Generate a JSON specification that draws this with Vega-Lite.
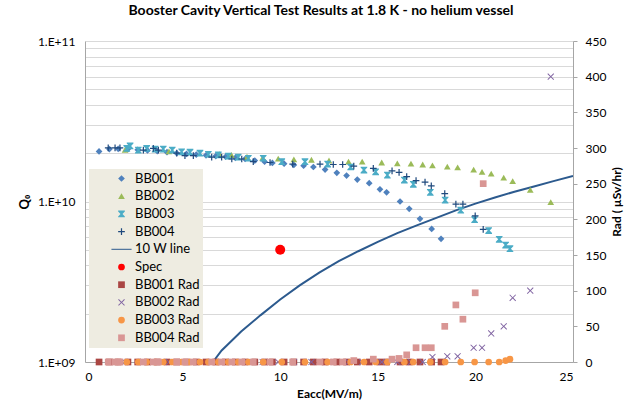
{
  "$schema": "https://vega.github.io/schema/vega-lite/v6.json",
  "width": 488,
  "height": 321,
  "autosize": {"type": "none"},
  "padding": {"left": 85, "top": 41, "right": 65, "bottom": 45},
  "background": "white",
  "config": {
    "font": "Lato",
    "view": {"stroke": null},
    "axis": {"labelFont": "Lato", "labelFontSize": 12, "labelColor": "#000000", "titleFont": "Lato", "titleFontSize": 12, "titleFontWeight": "bold", "titleColor": "#000000", "domainColor": "#A6A6A6", "tickColor": "#A6A6A6", "gridColor": "#D9D9D9", "gridWidth": 1}
  },
  "title": {"text": "Booster Cavity Vertical Test Results at 1.8 K - no helium vessel", "font": "Lato", "fontSize": 14, "fontWeight": "bold", "color": "#000000", "anchor": "middle", "offset": 17, "dx": -8},
  "datasets": {
    "q": [
      {"s": "BB001", "e": 0.72, "q": 2.05e10}, {"s": "BB001", "e": 1.25, "q": 2.12e10}, {"s": "BB001", "e": 1.7, "q": 2.13e10}, {"s": "BB001", "e": 2.2, "q": 2.12e10}, {"s": "BB001", "e": 2.7, "q": 2.1e10}, {"s": "BB001", "e": 3.2, "q": 2.08e10}, {"s": "BB001", "e": 3.7, "q": 2.06e10}, {"s": "BB001", "e": 4.2, "q": 2.03e10}, {"s": "BB001", "e": 4.7, "q": 2.0e10}, {"s": "BB001", "e": 5.2, "q": 1.98e10}, {"s": "BB001", "e": 5.7, "q": 1.96e10}, {"s": "BB001", "e": 6.2, "q": 1.94e10}, {"s": "BB001", "e": 6.7, "q": 1.92e10}, {"s": "BB001", "e": 7.2, "q": 1.9e10}, {"s": "BB001", "e": 7.7, "q": 1.87e10}, {"s": "BB001", "e": 8.2, "q": 1.84e10}, {"s": "BB001", "e": 8.7, "q": 1.8e10}, {"s": "BB001", "e": 9.2, "q": 1.77e10}, {"s": "BB001", "e": 9.6, "q": 1.74e10}, {"s": "BB001", "e": 10.2, "q": 1.72e10}, {"s": "BB001", "e": 10.7, "q": 1.69e10}, {"s": "BB001", "e": 11.2, "q": 1.67e10}, {"s": "BB001", "e": 11.7, "q": 1.64e10}, {"s": "BB001", "e": 12.3, "q": 1.58e10}, {"s": "BB001", "e": 12.9, "q": 1.51e10}, {"s": "BB001", "e": 13.4, "q": 1.45e10}, {"s": "BB001", "e": 13.95, "q": 1.37e10}, {"s": "BB001", "e": 14.56, "q": 1.3e10}, {"s": "BB001", "e": 15.11, "q": 1.19e10}, {"s": "BB001", "e": 15.45, "q": 1.14e10}, {"s": "BB001", "e": 16.14, "q": 1.0e10}, {"s": "BB001", "e": 16.61, "q": 9.0e9}, {"s": "BB001", "e": 17.16, "q": 7.8e9}, {"s": "BB001", "e": 17.76, "q": 6.75e9}, {"s": "BB001", "e": 18.24, "q": 5.85e9},
      {"s": "BB002", "e": 2.05, "q": 2.1e10}, {"s": "BB002", "e": 4.3, "q": 2.05e10}, {"s": "BB002", "e": 6.9, "q": 1.97e10}, {"s": "BB002", "e": 7.5, "q": 1.95e10}, {"s": "BB002", "e": 8.3, "q": 1.9e10}, {"s": "BB002", "e": 9.1, "q": 1.87e10}, {"s": "BB002", "e": 9.9, "q": 1.85e10}, {"s": "BB002", "e": 10.7, "q": 1.83e10}, {"s": "BB002", "e": 11.6, "q": 1.82e10}, {"s": "BB002", "e": 12.5, "q": 1.8e10}, {"s": "BB002", "e": 13.5, "q": 1.77e10}, {"s": "BB002", "e": 14.2, "q": 1.77e10}, {"s": "BB002", "e": 15.2, "q": 1.75e10}, {"s": "BB002", "e": 16.0, "q": 1.73e10}, {"s": "BB002", "e": 16.7, "q": 1.72e10}, {"s": "BB002", "e": 17.3, "q": 1.7e10}, {"s": "BB002", "e": 17.8, "q": 1.68e10}, {"s": "BB002", "e": 18.56, "q": 1.65e10}, {"s": "BB002", "e": 19.09, "q": 1.63e10}, {"s": "BB002", "e": 19.91, "q": 1.58e10}, {"s": "BB002", "e": 20.34, "q": 1.53e10}, {"s": "BB002", "e": 20.81, "q": 1.49e10}, {"s": "BB002", "e": 21.45, "q": 1.41e10}, {"s": "BB002", "e": 21.91, "q": 1.34e10}, {"s": "BB002", "e": 22.81, "q": 1.18e10}, {"s": "BB002", "e": 23.86, "q": 9.9e9},
      {"s": "BB003", "e": 2.14, "q": 2.14e10}, {"s": "BB003", "e": 2.31, "q": 2.22e10}, {"s": "BB003", "e": 2.73, "q": 2.09e10}, {"s": "BB003", "e": 3.16, "q": 2.14e10}, {"s": "BB003", "e": 3.59, "q": 2.12e10}, {"s": "BB003", "e": 4.01, "q": 2.12e10}, {"s": "BB003", "e": 4.47, "q": 2.09e10}, {"s": "BB003", "e": 4.95, "q": 2.04e10}, {"s": "BB003", "e": 5.38, "q": 2.03e10}, {"s": "BB003", "e": 5.89, "q": 2.0e10}, {"s": "BB003", "e": 6.32, "q": 1.97e10}, {"s": "BB003", "e": 6.83, "q": 1.95e10}, {"s": "BB003", "e": 7.34, "q": 1.92e10}, {"s": "BB003", "e": 7.85, "q": 1.89e10}, {"s": "BB003", "e": 8.37, "q": 1.86e10}, {"s": "BB003", "e": 9.13, "q": 1.86e10}, {"s": "BB003", "e": 10.08, "q": 1.77e10}, {"s": "BB003", "e": 11.27, "q": 1.77e10}, {"s": "BB003", "e": 12.43, "q": 1.71e10}, {"s": "BB003", "e": 13.61, "q": 1.64e10}, {"s": "BB003", "e": 14.29, "q": 1.57e10}, {"s": "BB003", "e": 14.89, "q": 1.53e10}, {"s": "BB003", "e": 15.49, "q": 1.46e10}, {"s": "BB003", "e": 16.36, "q": 1.36e10}, {"s": "BB003", "e": 16.82, "q": 1.28e10}, {"s": "BB003", "e": 17.69, "q": 1.14e10}, {"s": "BB003", "e": 18.45, "q": 1.02e10}, {"s": "BB003", "e": 19.25, "q": 8.83e9}, {"s": "BB003", "e": 19.96, "q": 7.71e9}, {"s": "BB003", "e": 20.68, "q": 6.59e9}, {"s": "BB003", "e": 21.22, "q": 5.81e9}, {"s": "BB003", "e": 21.55, "q": 5.35e9}, {"s": "BB003", "e": 21.77, "q": 5.08e9},
      {"s": "BB004", "e": 1.19, "q": 2.16e10}, {"s": "BB004", "e": 1.54, "q": 2.16e10}, {"s": "BB004", "e": 1.79, "q": 2.16e10}, {"s": "BB004", "e": 2.99, "q": 2.09e10}, {"s": "BB004", "e": 3.5, "q": 2.14e10}, {"s": "BB004", "e": 3.76, "q": 2.09e10}, {"s": "BB004", "e": 4.7, "q": 2.0e10}, {"s": "BB004", "e": 5.12, "q": 1.93e10}, {"s": "BB004", "e": 5.55, "q": 1.93e10}, {"s": "BB004", "e": 6.49, "q": 1.89e10}, {"s": "BB004", "e": 7.0, "q": 1.89e10}, {"s": "BB004", "e": 7.52, "q": 1.84e10}, {"s": "BB004", "e": 8.03, "q": 1.84e10}, {"s": "BB004", "e": 8.62, "q": 1.77e10}, {"s": "BB004", "e": 9.48, "q": 1.75e10}, {"s": "BB004", "e": 10.64, "q": 1.71e10}, {"s": "BB004", "e": 12.04, "q": 1.71e10}, {"s": "BB004", "e": 12.72, "q": 1.7e10}, {"s": "BB004", "e": 13.2, "q": 1.7e10}, {"s": "BB004", "e": 13.77, "q": 1.66e10}, {"s": "BB004", "e": 14.77, "q": 1.61e10}, {"s": "BB004", "e": 15.73, "q": 1.55e10}, {"s": "BB004", "e": 16.09, "q": 1.52e10}, {"s": "BB004", "e": 16.48, "q": 1.43e10}, {"s": "BB004", "e": 16.96, "q": 1.35e10}, {"s": "BB004", "e": 17.42, "q": 1.32e10}, {"s": "BB004", "e": 17.74, "q": 1.25e10}, {"s": "BB004", "e": 18.43, "q": 1.12e10}, {"s": "BB004", "e": 19.0, "q": 9.64e9}, {"s": "BB004", "e": 19.36, "q": 9.64e9}, {"s": "BB004", "e": 19.99, "q": 8.13e9}, {"s": "BB004", "e": 20.4, "q": 6.71e9}
    ],
    "w10": [
      {"e": 6.55, "q": 1.0e9}, {"e": 7, "q": 1.18e9}, {"e": 8, "q": 1.55e9}, {"e": 9, "q": 1.96e9}, {"e": 10, "q": 2.45e9}, {"e": 11, "q": 3.0e9}, {"e": 12, "q": 3.6e9}, {"e": 13, "q": 4.25e9}, {"e": 14, "q": 4.9e9}, {"e": 15, "q": 5.6e9}, {"e": 16, "q": 6.35e9}, {"e": 17, "q": 7.1e9}, {"e": 18, "q": 7.9e9}, {"e": 19, "q": 8.8e9}, {"e": 20, "q": 9.7e9}, {"e": 21, "q": 1.06e10}, {"e": 22, "q": 1.15e10}, {"e": 23, "q": 1.24e10}, {"e": 24, "q": 1.34e10}, {"e": 25, "q": 1.44e10}
    ],
    "spec": [{"s": "Spec", "e": 10, "q": 5.0e9}],
    "rad": [
      {"s": "BB001 Rad", "e": 0.72, "r": 0}, {"s": "BB001 Rad", "e": 1.25, "r": 0}, {"s": "BB001 Rad", "e": 1.7, "r": 0}, {"s": "BB001 Rad", "e": 2.2, "r": 0}, {"s": "BB001 Rad", "e": 2.7, "r": 0}, {"s": "BB001 Rad", "e": 3.2, "r": 0}, {"s": "BB001 Rad", "e": 3.7, "r": 0}, {"s": "BB001 Rad", "e": 4.2, "r": 0}, {"s": "BB001 Rad", "e": 4.7, "r": 0}, {"s": "BB001 Rad", "e": 5.2, "r": 0}, {"s": "BB001 Rad", "e": 5.7, "r": 0}, {"s": "BB001 Rad", "e": 6.2, "r": 0}, {"s": "BB001 Rad", "e": 6.7, "r": 0}, {"s": "BB001 Rad", "e": 7.2, "r": 0}, {"s": "BB001 Rad", "e": 7.7, "r": 0}, {"s": "BB001 Rad", "e": 8.2, "r": 0}, {"s": "BB001 Rad", "e": 8.7, "r": 0}, {"s": "BB001 Rad", "e": 9.2, "r": 0}, {"s": "BB001 Rad", "e": 9.6, "r": 0}, {"s": "BB001 Rad", "e": 10.2, "r": 0}, {"s": "BB001 Rad", "e": 10.7, "r": 0}, {"s": "BB001 Rad", "e": 11.2, "r": 0}, {"s": "BB001 Rad", "e": 11.7, "r": 0}, {"s": "BB001 Rad", "e": 12.3, "r": 0}, {"s": "BB001 Rad", "e": 12.9, "r": 0}, {"s": "BB001 Rad", "e": 13.4, "r": 0}, {"s": "BB001 Rad", "e": 13.95, "r": 0}, {"s": "BB001 Rad", "e": 14.56, "r": 0}, {"s": "BB001 Rad", "e": 15.11, "r": 0}, {"s": "BB001 Rad", "e": 15.45, "r": 0}, {"s": "BB001 Rad", "e": 16.14, "r": 0}, {"s": "BB001 Rad", "e": 16.61, "r": 0}, {"s": "BB001 Rad", "e": 17.16, "r": 0}, {"s": "BB001 Rad", "e": 17.76, "r": 0}, {"s": "BB001 Rad", "e": 18.24, "r": 0},
      {"s": "BB002 Rad", "e": 2.05, "r": 0}, {"s": "BB002 Rad", "e": 4.3, "r": 0}, {"s": "BB002 Rad", "e": 6.9, "r": 0}, {"s": "BB002 Rad", "e": 7.5, "r": 0}, {"s": "BB002 Rad", "e": 8.3, "r": 0}, {"s": "BB002 Rad", "e": 9.1, "r": 0}, {"s": "BB002 Rad", "e": 9.9, "r": 0}, {"s": "BB002 Rad", "e": 10.7, "r": 0}, {"s": "BB002 Rad", "e": 11.6, "r": 0}, {"s": "BB002 Rad", "e": 12.5, "r": 0}, {"s": "BB002 Rad", "e": 13.5, "r": 0}, {"s": "BB002 Rad", "e": 14.2, "r": 0}, {"s": "BB002 Rad", "e": 15.2, "r": 0}, {"s": "BB002 Rad", "e": 16.0, "r": 0}, {"s": "BB002 Rad", "e": 16.7, "r": 0}, {"s": "BB002 Rad", "e": 17.3, "r": 0}, {"s": "BB002 Rad", "e": 17.8, "r": 7}, {"s": "BB002 Rad", "e": 18.56, "r": 8}, {"s": "BB002 Rad", "e": 19.09, "r": 8}, {"s": "BB002 Rad", "e": 19.91, "r": 20}, {"s": "BB002 Rad", "e": 20.34, "r": 20}, {"s": "BB002 Rad", "e": 20.81, "r": 40}, {"s": "BB002 Rad", "e": 21.45, "r": 50}, {"s": "BB002 Rad", "e": 21.91, "r": 90}, {"s": "BB002 Rad", "e": 22.81, "r": 100}, {"s": "BB002 Rad", "e": 23.86, "r": 400},
      {"s": "BB003 Rad", "e": 2.14, "r": 0}, {"s": "BB003 Rad", "e": 2.73, "r": 0}, {"s": "BB003 Rad", "e": 3.16, "r": 0}, {"s": "BB003 Rad", "e": 3.59, "r": 0}, {"s": "BB003 Rad", "e": 4.01, "r": 0}, {"s": "BB003 Rad", "e": 4.47, "r": 0}, {"s": "BB003 Rad", "e": 4.95, "r": 0}, {"s": "BB003 Rad", "e": 5.38, "r": 0}, {"s": "BB003 Rad", "e": 5.89, "r": 0}, {"s": "BB003 Rad", "e": 6.32, "r": 0}, {"s": "BB003 Rad", "e": 6.83, "r": 0}, {"s": "BB003 Rad", "e": 7.34, "r": 0}, {"s": "BB003 Rad", "e": 7.85, "r": 0}, {"s": "BB003 Rad", "e": 8.37, "r": 0}, {"s": "BB003 Rad", "e": 9.13, "r": 0}, {"s": "BB003 Rad", "e": 10.08, "r": 0}, {"s": "BB003 Rad", "e": 11.27, "r": 0}, {"s": "BB003 Rad", "e": 12.43, "r": 0}, {"s": "BB003 Rad", "e": 13.61, "r": 0}, {"s": "BB003 Rad", "e": 14.29, "r": 0}, {"s": "BB003 Rad", "e": 14.89, "r": 0}, {"s": "BB003 Rad", "e": 15.49, "r": 0}, {"s": "BB003 Rad", "e": 16.36, "r": 0}, {"s": "BB003 Rad", "e": 16.82, "r": 0}, {"s": "BB003 Rad", "e": 17.69, "r": 0}, {"s": "BB003 Rad", "e": 18.45, "r": 0}, {"s": "BB003 Rad", "e": 19.25, "r": 0}, {"s": "BB003 Rad", "e": 19.96, "r": 0}, {"s": "BB003 Rad", "e": 20.68, "r": 0}, {"s": "BB003 Rad", "e": 21.22, "r": 0}, {"s": "BB003 Rad", "e": 21.55, "r": 2}, {"s": "BB003 Rad", "e": 21.77, "r": 4},
      {"s": "BB004 Rad", "e": 1.19, "r": 0}, {"s": "BB004 Rad", "e": 1.54, "r": 0}, {"s": "BB004 Rad", "e": 1.79, "r": 0}, {"s": "BB004 Rad", "e": 2.99, "r": 0}, {"s": "BB004 Rad", "e": 3.5, "r": 0}, {"s": "BB004 Rad", "e": 3.76, "r": 0}, {"s": "BB004 Rad", "e": 4.7, "r": 0}, {"s": "BB004 Rad", "e": 5.12, "r": 0}, {"s": "BB004 Rad", "e": 5.55, "r": 0}, {"s": "BB004 Rad", "e": 6.49, "r": 0}, {"s": "BB004 Rad", "e": 7.0, "r": 0}, {"s": "BB004 Rad", "e": 7.52, "r": 0}, {"s": "BB004 Rad", "e": 8.03, "r": 0}, {"s": "BB004 Rad", "e": 8.62, "r": 0}, {"s": "BB004 Rad", "e": 9.48, "r": 0}, {"s": "BB004 Rad", "e": 10.64, "r": 0}, {"s": "BB004 Rad", "e": 12.04, "r": 0}, {"s": "BB004 Rad", "e": 12.72, "r": 0}, {"s": "BB004 Rad", "e": 13.2, "r": 0}, {"s": "BB004 Rad", "e": 13.77, "r": 2}, {"s": "BB004 Rad", "e": 14.77, "r": 4}, {"s": "BB004 Rad", "e": 15.73, "r": 4}, {"s": "BB004 Rad", "e": 16.09, "r": 5}, {"s": "BB004 Rad", "e": 16.48, "r": 10}, {"s": "BB004 Rad", "e": 16.96, "r": 20}, {"s": "BB004 Rad", "e": 17.42, "r": 20}, {"s": "BB004 Rad", "e": 17.74, "r": 20}, {"s": "BB004 Rad", "e": 18.43, "r": 50}, {"s": "BB004 Rad", "e": 19.0, "r": 80}, {"s": "BB004 Rad", "e": 19.36, "r": 60}, {"s": "BB004 Rad", "e": 19.99, "r": 97}, {"s": "BB004 Rad", "e": 20.4, "r": 250}
    ]
  },
  "encoding": {
    "x": {"field": "e", "type": "quantitative", "scale": {"domain": [0, 25], "nice": false, "zero": false},
      "axis": {"title": "Eacc(MV/m)", "values": [0, 5, 10, 15, 20, 25], "grid": false, "ticks": false, "labelPadding": 9, "titlePadding": 6}}
  },
  "layer": [
    {
      "layer": [
        {
          "data": {"name": "w10"},
          "mark": {"type": "line", "color": "#2C5A8E", "strokeWidth": 2, "clip": true},
          "encoding": {"y": {"field": "q", "type": "quantitative", "scale": {"type": "log", "domain": [1e9, 1e11], "nice": false},
            "axis": {"title": "Q₀", "titleAngle": -90, "titleFontSize": 13, "values": [1e9, 2e9, 3e9, 4e9, 5e9, 6e9, 7e9, 8e9, 9e9, 1e10, 2e10, 3e10, 4e10, 5e10, 6e10, 7e10, 8e10, 9e10, 1e11],
              "labelExpr": "datum.value == 1e9 ? '1.E+09' : datum.value == 1e10 ? '1.E+10' : datum.value == 1e11 ? '1.E+11' : ''",
              "grid": true, "ticks": false, "labelPadding": 10, "titlePadding": 6}}}
        },
        {
          "data": {"name": "q"},
          "mark": {"type": "point", "filled": true, "opacity": 1, "size": 45, "strokeWidth": 0},
          "encoding": {
            "y": {"field": "q", "type": "quantitative"},
            "color": {"field": "s", "type": "nominal", "scale": {"domain": ["BB001", "BB002", "BB003", "BB004", "10 W line", "Spec", "BB001 Rad", "BB002 Rad", "BB003 Rad", "BB004 Rad"], "range": ["#4F81BD", "#9BBB59", "#4BACC6", "#1F497D", "#2C5A8E", "#FF0000", "#AA4643", "#8064A2", "#F79646", "#D99694"]},
              "legend": {"title": null, "orient": "none", "legendX": 4, "legendY": 128, "fillColor": "#EEECE1", "padding": 3, "symbolOffset": 23, "labelOffset": 7, "labelFontSize": 13, "labelFont": "Lato", "labelColor": "#000000", "symbolSize": 45, "rowPadding": 3.7, "symbolStrokeWidth": 0, "labelExpr": "datum.label + '\u00a0\u00a0\u00a0\u00a0\u00a0\u00a0\u00a0\u00a0\u00a0\u00a0\u00a0\u00a0\u00a0\u00a0\u00a0\u00a0\u00a0\u00a0\u00a0\u00a0\u00a0\u00a0\u00a0\u00a0'"}},
            "shape": {"field": "s", "type": "nominal", "scale": {"domain": ["BB001", "BB002", "BB003", "BB004", "10 W line", "Spec", "BB001 Rad", "BB002 Rad", "BB003 Rad", "BB004 Rad"], "range": ["diamond", "triangle-up", "M-1,-1H1V-0.75L0.3,0L1,0.75V1H-1V0.75L-0.3,0L-1,-0.75Z", "M-1,-0.18H-0.18V-1H0.18V-0.18H1V0.18H0.18V1H-0.18V0.18H-1Z", "M-3,-0.15H3V0.15H-3Z", "circle", "square", "M-1,-0.8L-0.8,-1L0,-0.2L0.8,-1L1,-0.8L0.2,0L1,0.8L0.8,1L0,0.2L-0.8,1L-1,0.8L-0.2,0Z", "circle", "square"]},
              "legend": {"title": null, "orient": "none", "legendX": 4, "legendY": 128, "fillColor": "#EEECE1", "padding": 3, "symbolOffset": 23, "labelOffset": 7, "labelFontSize": 13, "labelFont": "Lato", "labelColor": "#000000", "symbolSize": 45, "rowPadding": 3.7, "symbolStrokeWidth": 0, "labelExpr": "datum.label + '\u00a0\u00a0\u00a0\u00a0\u00a0\u00a0\u00a0\u00a0\u00a0\u00a0\u00a0\u00a0\u00a0\u00a0\u00a0\u00a0\u00a0\u00a0\u00a0\u00a0\u00a0\u00a0\u00a0\u00a0'"}}
          }
        },
        {
          "data": {"name": "spec"},
          "mark": {"type": "point", "filled": true, "opacity": 1, "size": 100, "strokeWidth": 0},
          "encoding": {
            "y": {"field": "q", "type": "quantitative"},
            "color": {"field": "s", "type": "nominal"},
            "shape": {"field": "s", "type": "nominal"}
          }
        }
      ]
    },
    {
      "data": {"name": "rad"},
      "mark": {"type": "point", "filled": true, "opacity": 1, "size": 45, "strokeWidth": 0},
      "encoding": {
        "y": {"field": "r", "type": "quantitative", "scale": {"domain": [0, 450], "nice": false},
          "axis": {"orient": "right", "title": "Rad ( µSv/hr)", "titleAngle": -90, "titleBaseline": "top", "values": [0, 50, 100, 150, 200, 250, 300, 350, 400, 450], "grid": false, "ticks": true, "tickSize": 4, "labelPadding": 8, "titlePadding": 6}},
        "color": {"field": "s", "type": "nominal"},
        "shape": {"field": "s", "type": "nominal"}
      }
    }
  ],
  "resolve": {"scale": {"y": "independent"}}
}
